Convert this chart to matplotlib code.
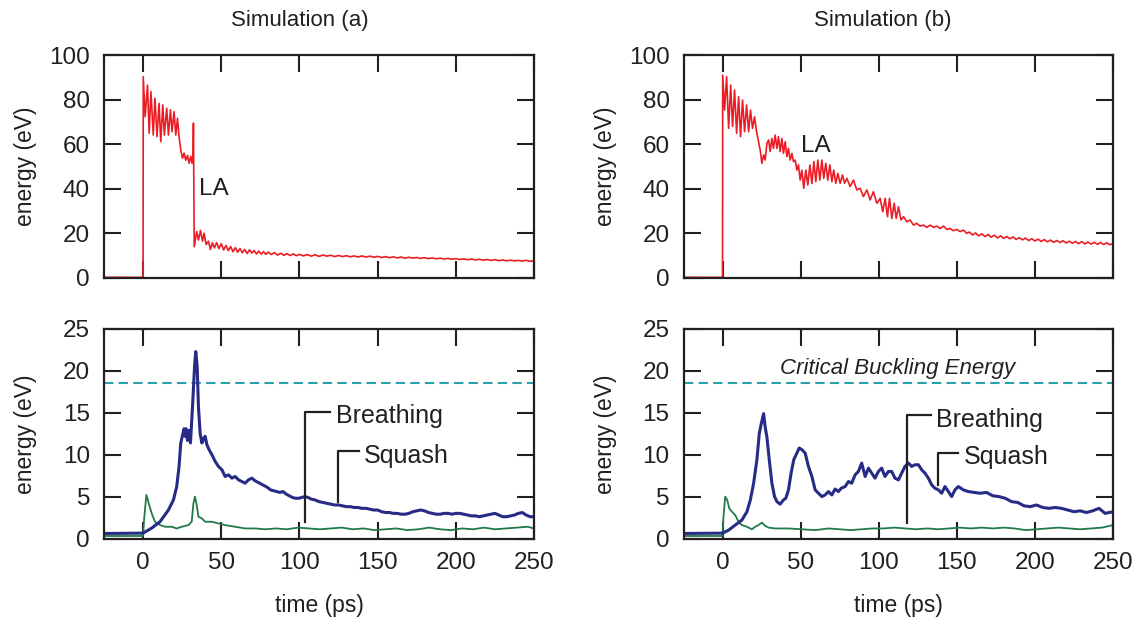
# Energy in the LA mode and in the breathing / squash modes, two simulations
import matplotlib
matplotlib.use("Agg")
import matplotlib.pyplot as plt

plt.rcParams["font.family"] = ["Liberation Sans", "DejaVu Sans"]

# ---- Simulation (a), LA energy (eV)
t_la_a = [-25, 0, 0.1, 1.3, 2.8, 3.9, 5.0, 6.5, 7.6, 8.9, 10.2, 11.3, 12.6, 13.6,
          15.1, 16.2, 17.5, 18.5, 19.8, 20.9, 22.0, 23.0, 24.1, 25.2, 26.2, 27.3,
          28.4, 29.4, 30.5, 31.3, 31.9, 32.2, 32.7, 34.3, 35.4, 36.7, 38.0, 39.0,
          40.3, 41.8, 43.1, 44.3, 45.6,
          47, 48.5, 50, 51.5, 53, 54.5, 56, 57.5, 59, 60.5, 62, 63.5, 65, 66.5,
          68, 69.5, 71, 72.5, 74, 75.5, 77, 78.5, 80, 82, 84, 86, 88, 90, 92, 94,
          96, 98, 100, 102.5, 105, 107.5, 110, 112.5, 115, 117.5, 120, 122.5, 125,
          127.5, 130, 132.5, 135, 137.5, 140, 142.5, 145, 147.5, 150, 152.5, 155,
          157.5, 160, 162.5, 165, 167.5, 170, 172.5, 175, 177.5, 180, 182.5, 185,
          187.5, 190, 192.5, 195, 197.5, 200, 202.5, 205, 207.5, 210, 212.5, 215,
          217.5, 220, 222.5, 225, 227.5, 230, 232.5, 235, 237.5, 240, 242.5, 245,
          247.5, 250]
e_la_a = [0.3, 0.3, 90.3, 72.3, 86.5, 64.9, 83.6, 64.1, 80.6, 63.4, 78.3, 61.1, 77.6, 64.1,
          76.1, 64.1, 75.4, 65.6, 74.6, 64.1, 71.6, 63.4, 57.4, 53.7, 56.0, 52.8,
          55.0, 51.5, 54.6, 51.5, 53.0, 69.4, 14.0, 20.8, 17.0, 21.3, 16.5, 20.1,
          15.0, 16.5, 12.8, 15.8, 13.5,
          15.9, 13.2, 15.4, 12.6, 14.6, 12.3, 14.1, 11.8, 13.6, 11.6, 13.2, 11.3, 12.8, 11.0,
          12.6, 11.2, 12.3, 10.8, 12.1, 10.7, 11.8, 10.6, 11.6, 10.5, 11.4, 10.3, 11.1, 10.2, 10.9, 10.1,
          10.8, 10.0, 10.6, 9.9, 10.5, 9.8, 10.4, 9.7, 10.3, 9.8, 10.2, 9.6, 10.1,
          9.6, 10.0, 9.5, 9.9, 9.4, 9.9, 9.4, 9.8, 9.3, 9.7, 9.2, 9.6,
          9.1, 9.5, 9.0, 9.4, 8.9, 9.3, 8.9, 9.2, 8.8, 9.1, 8.7, 9.0,
          8.6, 8.9, 8.5, 8.8, 8.4, 8.7, 8.3, 8.6, 8.2, 8.5, 8.1, 8.4,
          8.0, 8.3, 7.9, 8.2, 7.8, 8.1, 7.7, 8.0, 7.7, 7.9, 7.6, 7.9,
          7.5, 7.7]

# ---- Simulation (b), LA energy (eV)
t_la_b = [-25, 0, 0.1, 1.3, 2.6, 3.9, 5.2, 6.4, 7.7, 9.0, 10.3, 11.5, 12.8, 14.1,
          15.4, 16.7, 17.9, 19.2, 20.5, 21.8, 23.1, 24.1, 25.2, 26.3, 27.3, 28.4,
          29.5, 30.5, 31.6, 32.6, 33.7, 34.8, 35.8, 36.9, 38.0, 39.0, 40.1, 41.2,
          42.2, 43.3, 44.4, 45.4, 46.5, 47.6, 48.6, 49.7, 50.8, 52.0, 53.3, 54.6,
          55.9, 57.2, 58.5, 59.7, 61.0, 62.3, 63.6, 64.8, 66.1, 67.4, 68.7, 70.0,
          71.2, 72.5, 73.8, 75.3, 76.8, 78.1, 79.6, 81.7, 83.8, 86.0, 88.1, 90.2,
          92.4, 94.5, 96.6, 98.8, 100.9, 102.6, 104.1, 105.6, 106.9, 108.4, 109.9,
          111.2, 112.7, 114.2, 115.9, 118.0, 120.1, 122.3, 124.4, 126.5, 128.7,
          130.8, 132.9, 135.1, 137.2, 139.3, 141.5, 143.6, 145.7, 147.8, 150.0,
          152.1, 154.2, 156.4,
          158, 160, 162, 164, 166, 168, 170, 172, 174, 176, 178, 180, 182, 184, 186,
          188, 190, 192, 194, 196, 198, 200, 202, 204, 206, 208, 210, 212, 214, 216,
          218, 220, 222, 224, 226, 228, 230, 232, 234, 236, 238, 240, 242, 244, 246,
          248, 250]
e_la_b = [0.3, 0.3, 91.0, 75.3, 90.3, 67.1, 86.5, 68.0, 84.3, 64.9, 81.3, 63.4, 79.8, 65.6,
          77.6, 65.6, 75.3, 67.1, 72.3, 65.6, 61.1, 57.4, 51.4, 55.2, 52.9, 60.4,
          61.9, 56.7, 62.6, 58.1, 64.1, 58.1, 63.4, 56.7, 62.6, 55.9, 61.1, 54.4,
          58.1, 52.9, 55.9, 52.2, 52.9, 48.4, 50.7, 43.9, 48.4, 40.2, 48.4, 41.7,
          50.7, 42.4, 52.2, 43.2, 52.9, 43.9, 52.9, 44.7, 51.4, 43.9, 50.7, 43.2,
          48.4, 42.4, 46.9, 42.4, 46.2, 42.5, 44.7, 41.0, 43.9, 39.5, 40.2, 36.5,
          39.5, 35.0, 38.7, 33.5, 35.7, 29.7, 35.7, 27.5, 35.7, 26.7, 33.5,
          26.7, 32.0, 26.0, 27.5, 25.2, 26.0, 23.7, 24.5, 23.3, 23.7,
          22.7, 23.7, 22.7, 23.3, 22.2, 23.3, 21.8, 22.2, 21.2, 21.8,
          20.8, 21.5, 20.0,
          20.6, 19.3, 20.2, 18.9, 19.8, 18.6, 19.5, 18.3, 19.2, 18.0, 18.9, 17.8, 18.6, 17.6, 18.4,
          17.3, 18.1, 17.1, 17.9, 16.8, 17.6, 16.6, 17.4, 16.4, 17.2, 16.2, 17.0, 16.0, 16.8, 15.9,
          16.7, 15.7, 16.5, 15.6, 16.4, 15.4, 16.3, 15.3, 16.1, 15.2, 16.0, 15.1, 15.9, 15.0, 15.8,
          14.9, 15.5]

# ---- Simulation (a), breathing mode energy (eV)
t_br_a = [-25, 0, 5.5, 10.8, 16.2, 19.4, 21.5, 23.0, 24.1, 25.2, 26.2, 26.9, 27.5,
          28.4, 29.4, 30.3, 31.6, 32.9, 33.7, 34.6, 35.4, 36.5, 37.6, 38.6, 39.7,
          40.8, 42.2, 44.0, 46.1, 48.2, 50.4, 52.5, 54.6, 56.8, 58.9, 61.0, 63.2,
          65.3, 67.4, 69.6, 71.5, 73.5, 75.5, 77.5, 79.5, 81.5, 83.5, 85.5, 87.5,
          89.5, 91.5, 93.5, 95.5, 97.5, 99.5, 101.5, 103.5, 105.5, 107.5, 110,
          112.5, 115, 117.5, 120, 122.5, 125, 127.5, 130, 132.5, 135, 137.5, 140,
          142.5, 145, 147.5, 150, 152.5, 155, 157.5, 160, 162.5, 165, 167.5, 170,
          172.5, 175, 177.5, 180, 182.5, 185, 187.5, 190, 192.5, 195, 197.5, 200,
          202.5, 205, 207.5, 210, 212.5, 215, 217.5, 220, 222.5, 225, 227.5, 230,
          232.5, 235, 237.5, 240, 242.5, 245, 247.5, 250]
e_br_a = [0.6, 0.64, 1.24, 2.0, 3.4, 4.6, 6.2, 8.6, 11.4, 12.3, 13.1, 12.2, 13.1,
          11.7, 12.9, 11.4, 15.7, 20.5, 22.3, 20.5, 15.7, 12.5, 11.4, 11.9, 12.2,
          11.2, 10.6, 10.0, 9.2, 8.6, 8.2, 7.4, 7.6, 7.2, 7.4, 7.0, 6.8,
          6.6, 7.0, 7.2, 6.9, 6.7, 6.5, 6.3, 6.1, 5.8, 5.7, 5.6, 5.5,
          5.6, 5.3, 5.1, 4.9, 4.8, 4.8, 4.9, 5.0, 4.9, 4.7, 4.6,
          4.4, 4.3, 4.2, 4.1, 4.0, 4.0, 3.9, 3.8, 3.8, 3.7, 3.7, 3.6,
          3.6, 3.5, 3.4, 3.4, 3.2, 3.1, 3.1, 3.0, 3.0, 2.9, 2.9, 3.0,
          3.2, 3.3, 3.4, 3.3, 3.1, 3.0, 2.9, 2.9, 3.0, 3.0, 2.9, 3.0,
          3.0, 2.9, 2.8, 2.7, 2.7, 2.6, 2.7, 2.8, 2.9, 3.0, 2.8, 2.6,
          2.6, 2.7, 2.8, 3.0, 3.1, 2.8, 2.6, 2.6]

# ---- Simulation (a), squash mode energy (eV)
t_sq_a = [-25, 0, 0.6, 2.1, 3.6, 5.5, 7.6, 10.8, 14.1, 18.3, 21.5, 24.7, 29.0, 31.1,
          32.2, 33.2, 34.3, 35.4, 37.6, 39.7, 44.0, 48.2, 52.5, 58.9, 65.3, 71.7,
          78, 85, 92, 99, 106, 113, 120, 127, 134, 141, 148, 155, 162, 169, 176,
          183, 190, 197, 204, 211, 218, 225, 232, 239, 246, 250]
e_sq_a = [0.3, 0.3, 2.2, 5.2, 4.2, 3.0, 2.0, 1.6, 1.4, 1.4, 1.2, 1.4, 1.6, 2.0,
          4.2, 5.0, 4.0, 2.6, 2.4, 2.0, 2.0, 1.8, 1.6, 1.4, 1.2, 1.2,
          1.1, 1.2, 1.1, 1.3, 1.2, 1.1, 1.2, 1.3, 1.1, 1.2, 1.0, 1.1, 1.2, 1.0, 1.1,
          1.3, 1.1, 1.0, 1.2, 1.1, 1.3, 1.1, 1.2, 1.3, 1.4, 1.2]

# ---- Simulation (b), breathing mode energy (eV)
t_br_b = [-25, 0, 3.9, 8.1, 12.4, 15.6, 17.8, 19.9, 22.0, 23.5, 24.8, 26.3, 27.3,
          28.4, 29.9, 31.6, 33.3, 34.8, 36.9, 39.0, 40.5, 42.2, 43.9, 45.6, 47.6,
          49.1, 50.8, 52.9, 55.0, 57.2, 59.3, 61.4, 63.6, 65.7, 67.8, 70.0, 72.1,
          74.2, 76.0, 78.5, 80.6, 82.7, 84.9, 87.0, 89.1, 91.3, 93.4, 95.5, 97.6,
          99.8, 101.9, 104.0, 106.2, 108.3, 110.4, 112.6, 114.7, 116.8, 119.0,
          121.1, 123.2, 125.4, 127.5, 129.6, 131.8, 133.9, 136.0, 138.2, 140.3,
          142.4, 144.6, 146.7, 148.8, 151.0, 154.2, 157.4, 161, 165, 169, 173, 177,
          181, 185, 189, 193, 197, 201, 205, 209, 213, 217, 221, 225, 229, 233,
          237, 241, 245, 250]
e_br_b = [0.6, 0.64, 1.0, 1.6, 2.2, 3.2, 4.6, 6.6, 9.4, 12.5, 13.7, 14.9, 13.3,
          12.1, 9.4, 6.6, 5.0, 4.4, 4.1, 4.6, 4.8, 5.8, 7.8, 9.4, 10.2,
          10.8, 10.6, 10.2, 8.6, 7.4, 5.8, 5.4, 5.0, 5.2, 5.6, 5.2, 5.9,
          5.6, 6.0, 6.2, 6.8, 6.6, 7.6, 8.0, 9.0, 7.4, 8.4, 7.8, 7.2,
          8.0, 8.4, 7.4, 8.0, 8.0, 7.2, 7.0, 7.8, 8.6, 9.0,
          8.6, 8.8, 8.8, 8.2, 7.8, 7.2, 6.4, 6.0, 5.8, 5.4,
          6.2, 5.6, 5.0, 5.8, 6.2, 5.8, 5.6, 5.5, 5.4, 5.5, 5.1, 5.0,
          4.8, 4.4, 4.3, 3.9, 3.8, 4.0, 3.7, 3.6, 3.7, 3.6, 3.4, 3.2, 3.3, 3.1,
          3.3, 3.6, 3.0, 3.2]

# ---- Simulation (b), squash mode energy (eV)
t_sq_b = [-25, 0, 0.6, 1.7, 3.0, 4.3, 6.0, 8.1, 10.2, 12.4, 15.6, 18.8, 20.9, 23.0,
          25.2, 27.3, 29.5, 33.7, 42.2, 50.8, 59.3, 67.8, 75, 82, 89, 96, 103, 110,
          117, 124, 131, 138, 145, 152, 159, 166, 173, 180, 187, 194, 201, 208, 215,
          222, 229, 236, 243, 250]
e_sq_b = [0.3, 0.3, 2.6, 5.0, 4.6, 3.6, 3.2, 2.8, 2.0, 1.6, 1.4, 1.1, 1.4, 1.6,
          1.9, 1.5, 1.3, 1.2, 1.2, 1.1, 1.0, 1.2, 1.1, 1.0, 1.1, 1.2, 1.2, 1.3,
          1.2, 1.1, 1.2, 1.1, 1.2, 1.3, 1.2, 1.3, 1.2, 1.3, 1.2, 1.0, 1.1, 1.2, 1.3,
          1.2, 1.1, 1.2, 1.3, 1.6]

critical = 18.5
titles = ["Simulation (a)", "Simulation (b)"]
# hook annotations: (x of stem, stem bottom, stem top, x end of hook, label)
hooks_a = [(103.6, 2.0, 15.1, 119.6, "Breathing"), (124.5, 4.4, 10.4, 137.9, "Squash")]
hooks_b = [(118.0, 1.8, 14.7, 133.3, "Breathing"), (137.8, 6.4, 10.2, 151.0, "Squash")]
la_pos = [(36, 40), (50, 59)]

RED = "#ec1c24"
BLUE = "#262b86"
GREEN = "#23794a"
TEAL = "#2aa1a9"
INK = "#231f20"

W, H = 1137, 620
fig = plt.figure(figsize=(W / 100, H / 100), dpi=100)


def px_axes(x0, x1, y0, y1):
    return fig.add_axes([x0 / W, 1 - y1 / H, (x1 - x0) / W, (y1 - y0) / H])


def style(ax, ymax, ystep, xlabels):
    ax.set_xlim(-25, 250)
    ax.set_ylim(0, ymax)
    ax.set_xticks(range(0, 251, 50))
    ax.set_yticks(range(0, ymax + 1, ystep))
    ax.tick_params(direction="in", length=12, width=1.5, color=INK,
                   top=True, right=True, labelsize=17.5, labelcolor=INK)
    ax.tick_params(axis="y", pad=10)
    ax.tick_params(axis="x", pad=10, labelbottom=xlabels)
    for s in ax.spines.values():
        s.set_linewidth(1.6)
        s.set_color(INK)
    ax.set_ylabel("energy (eV)", fontsize=16.5, color=INK)
    ax.yaxis.set_label_coords(-0.155, 0.5)
    if xlabels:
        ax.set_xlabel("time (ps)", fontsize=16.5, color=INK)
        ax.xaxis.set_label_coords(0.5, -0.265)


cols = [(104, 534), (683.5, 1113)]
title_x = [0.455, 0.465]
data = [(t_la_a, e_la_a, t_br_a, e_br_a, t_sq_a, e_sq_a, hooks_a),
        (t_la_b, e_la_b, t_br_b, e_br_b, t_sq_b, e_sq_b, hooks_b)]

for i, (x0, x1) in enumerate(cols):
    tl, el, tb, eb, ts, es, hooks = data[i]

    ax = px_axes(x0, x1, 55, 278)
    ax.plot(tl, el, color=RED, lw=1.2)
    style(ax, 100, 20, False)
    ax.set_title(titles[i], fontsize=16, color=INK, pad=21, x=title_x[i])
    ax.text(la_pos[i][0], la_pos[i][1], "LA", fontsize=17.5, color=INK, va="center")

    bx = px_axes(x0, x1, 329, 538.5)
    bx.axhline(critical, color=TEAL, lw=1.5, dashes=(4.5, 2.5))
    bx.plot(ts, es, color=GREEN, lw=1.3)
    bx.plot(tb, eb, color=BLUE, lw=2.2)
    style(bx, 25, 5, True)
    for xs, yb, yt, xe, lab in hooks:
        bx.plot([xs, xs, xe], [yb, yt, yt], color=INK, lw=1.6)
        bx.text(xe + 3.5, yt - 0.5, lab, fontsize=18, color=INK, va="center")
    if i == 1:
        bx.text(112, 20.3, "Critical Buckling Energy", fontsize=16, style="italic",
                color=INK, ha="center", va="center")

fig.savefig("out.png", dpi=100)
